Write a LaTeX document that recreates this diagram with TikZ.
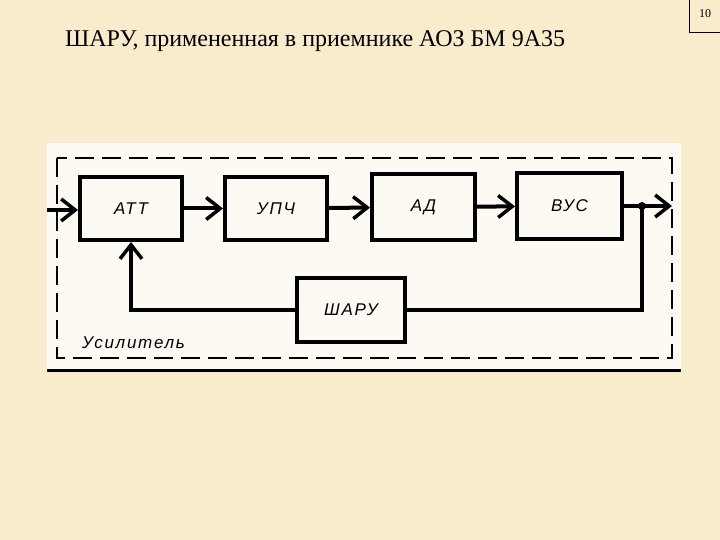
\documentclass[tikz,border=0pt]{standalone}
\usepackage{fontspec}
\setmainfont{Liberation Serif}
\newfontfamily\gost[LetterSpace=10]{Liberation Sans}
\usetikzlibrary{arrows.meta}
\definecolor{bg}{HTML}{F8ECCD}
\definecolor{paper}{HTML}{FDFAF3}
\tikzset{
  blk/.style={draw, line width=4pt, font=\gost\itshape\fontsize{17}{17}\selectfont, inner sep=0pt},
  wire/.style={line width=4pt},
  arr/.style={line width=4pt, -{Straight Barb[length=14pt,width=22pt,line width=3.5pt]}},
}
\begin{document}
\begin{tikzpicture}[x=1pt,y=-1pt]
\useasboundingbox (0,0) rectangle (720,540);
\fill[bg] (0,0) rectangle (720,540);
% page number
\draw[line width=0.8pt] (689,0) -- (689,32) -- (720,32);
\node[font=\fontsize{12}{12}\selectfont] (pg) at (705,14) {10};
% title
\node[anchor=base west, font=\fontsize{24}{24}\selectfont, inner sep=0pt] (title) at (65,47) {ШАРУ, примененная в приемнике АОЗ БМ 9А35};
% scanned sheet
\fill[paper] (47,143) rectangle (681,372);
\draw[line width=3pt] (47,370) -- (681,370);
\draw[line width=2.2pt, dash pattern=on 19pt off 8pt] (57,158) rectangle (672,358);
% blocks
\node[blk, minimum width=102pt, minimum height=63pt] (att) at (131,208.5) {АТТ};
\node[blk, minimum width=102pt, minimum height=63pt] (upch) at (276,208.5) {УПЧ};
\node[blk, minimum width=103pt, minimum height=66pt] (ad) at (423.5,207) {АД};
\node[blk, minimum width=105pt, minimum height=66pt] (vus) at (569.5,206) {ВУС};
\node[blk, minimum width=108pt, minimum height=64pt] (sharu) at (351,310) {ШАРУ};
% connectors
\coordinate (in) at (47,210);
\draw[arr] (in) -- (in -| att.west);
\draw[arr] (att) -- (upch);
\draw[arr] (upch) -- (ad);
\draw[arr] (ad) -- (vus);
\coordinate (dot) at (642,206);
\coordinate (out) at (672,206);
\draw[wire] (vus.east) -- (dot);
\draw[arr] (dot) -- (out);
\fill (dot) circle (4pt);
\draw[wire] (dot) |- (sharu.east);
\draw[arr] (sharu.west) -| (att.south);
% label
\node[anchor=base west, font=\gost\itshape\fontsize{17}{17}\selectfont, inner sep=0pt] (amp) at (82,348) {Усилитель};
\end{tikzpicture}
\end{document}
